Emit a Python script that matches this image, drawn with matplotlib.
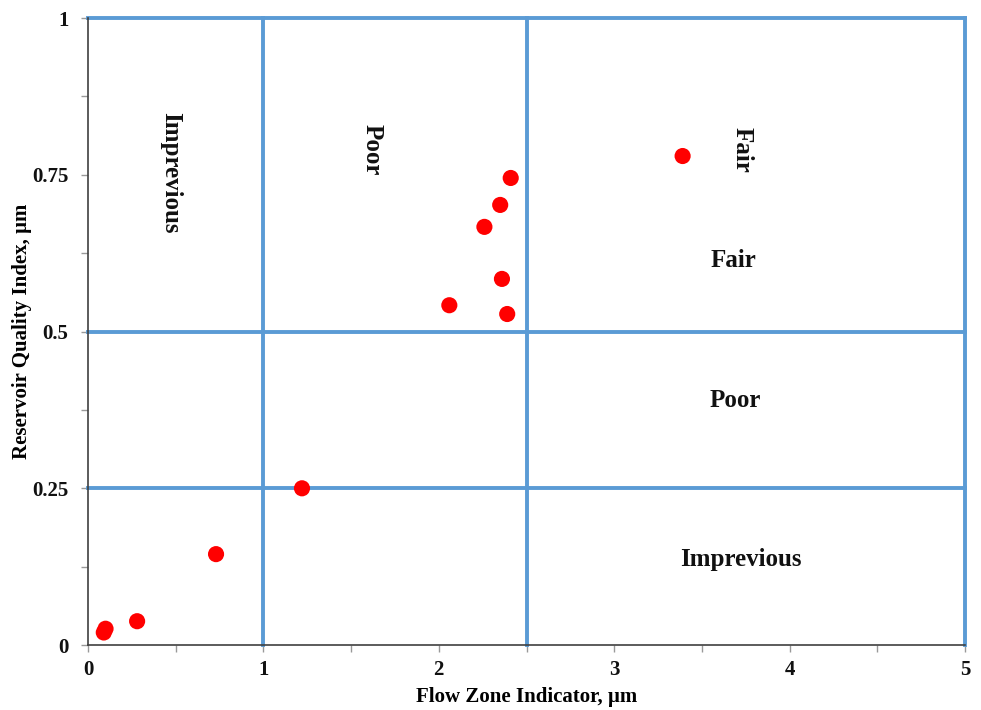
import matplotlib
matplotlib.use("Agg")
import matplotlib.pyplot as plt
from matplotlib.ticker import MultipleLocator

plt.rcParams['font.family'] = ['Liberation Serif', 'DejaVu Serif']
plt.rcParams['font.weight'] = 'bold'

# Flow zone indicator (µm) and reservoir quality index (µm) per sample
fzi = [0.09, 0.10, 0.28, 0.73, 1.22, 2.06, 2.26, 2.35, 2.41, 2.36, 2.39, 3.39]
rqi = [0.020, 0.026, 0.038, 0.145, 0.250, 0.542, 0.667, 0.702, 0.745, 0.584, 0.528, 0.780]

# Class boundaries
fzi_bounds = [1.0, 2.5, 5.0]
rqi_bounds = [0.25, 0.5, 1.0]

# Zone labels: (text, x, y, rotation)
zone_labels = ["Imprevious", "Poor", "Fair", "Fair", "Poor", "Imprevious"]
zone_x = [0.47, 1.62, 3.73, 3.68, 3.69, 3.72]
zone_y = [0.754, 0.79, 0.79, 0.614, 0.39, 0.137]
zone_rot = [270, 270, 270, 0, 0, 0]

x_ticks = [0, 1, 2, 3, 4, 5]
y_ticks = [0, 0.25, 0.5, 0.75, 1]
y_tick_labels = ["0", "0.25", "0.5", "0.75", "1"]

blue = "#5B9BD5"

fig = plt.figure(figsize=(9.81, 7.10), dpi=100)
ax = fig.add_axes([0.0897, 0.0915, 0.894, 0.883])
ax.set_xlim(0, 5)
ax.set_ylim(0, 1)

for xb in fzi_bounds:
    ax.plot([xb, xb], [0, 1], color=blue, lw=2.8, clip_on=False, zorder=2)
for yb in rqi_bounds:
    ax.plot([0, 5], [yb, yb], color=blue, lw=2.8, clip_on=False, zorder=2)

ax.scatter(fzi, rqi, s=135, color="#FF0000", edgecolors="none", zorder=3, clip_on=False)

for t, x, y, r in zip(zone_labels, zone_x, zone_y, zone_rot):
    ax.text(x, y, t, rotation=r, ha="center", va="center", fontsize=18,
            fontweight="bold", color="#111111")

for s in ("top", "right"):
    ax.spines[s].set_visible(False)
for s in ("left", "bottom"):
    ax.spines[s].set_color("#404040")
    ax.spines[s].set_linewidth(1.2)

ax.set_xticks(x_ticks)
ax.set_xticklabels([str(v) for v in x_ticks])
ax.set_yticks(y_ticks)
ax.set_yticklabels(y_tick_labels)
ax.xaxis.set_minor_locator(MultipleLocator(0.5))
ax.yaxis.set_minor_locator(MultipleLocator(0.125))
ax.tick_params(which="both", direction="out", length=5, width=1, color="#999999",
               labelsize=15, labelcolor="#111111")
ax.tick_params(axis="x", which="major", pad=6)
ax.tick_params(axis="y", which="major", pad=9)

ax.set_xlabel("Flow Zone Indicator, µm", fontsize=15, fontweight="bold", labelpad=5)
ax.set_ylabel("Reservoir Quality Index, µm", fontsize=15, fontweight="bold", labelpad=0)

fig.savefig("out.png", dpi=100, facecolor="white")
